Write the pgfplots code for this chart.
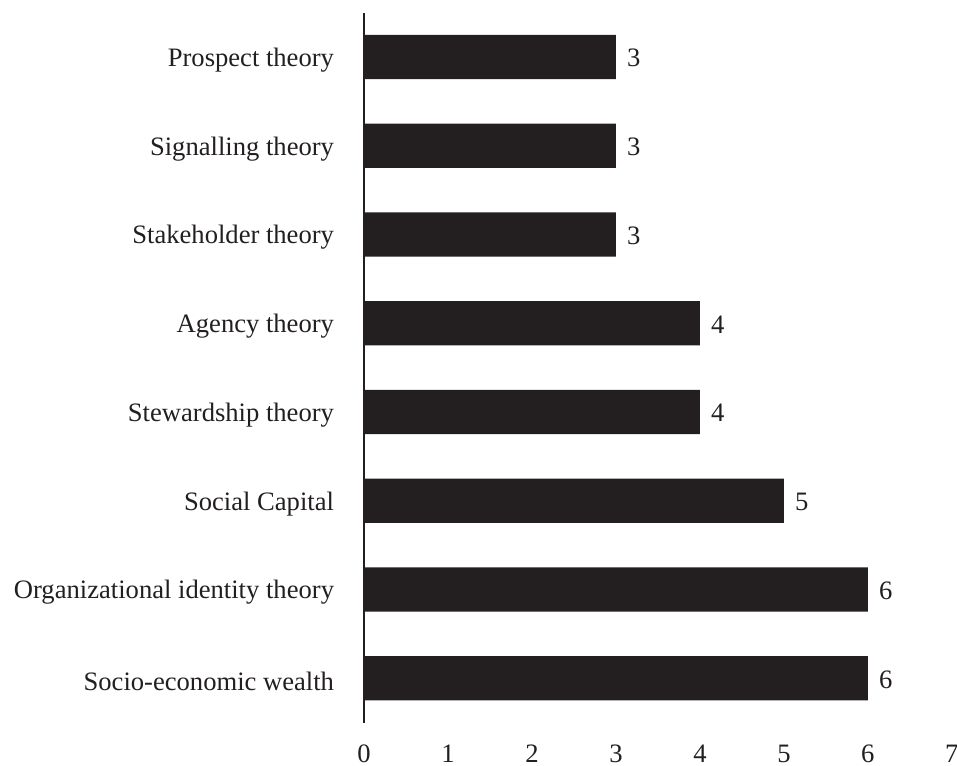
\documentclass[border=0pt]{standalone}
\usepackage{pgfplots}
\pgfplotsset{compat=1.18}
\usepackage{fontspec}
\setmainfont{Liberation Serif}
\definecolor{barblack}{RGB}{35,31,32}
\begin{document}
\begin{tikzpicture}[font=\fontsize{12bp}{14bp}\selectfont, text=barblack]
\useasboundingbox (-164.2bp,-19.1bp) rectangle (267.5bp,326.0bp);
\begin{axis}[
  at={(0,0)}, anchor=south west,
  scale only axis,
  width=265.2bp, height=320.3bp,
  xbar,
  bar width=0.5,
  xmin=0, xmax=7,
  ymin=-0.5, ymax=7.5,
  xtick={0,1,2,3,4,5,6,7},
  ytick={0,1,2,3,4,5,6,7},
  yticklabels={Socio-economic wealth, Organizational identity theory, Social Capital, Stewardship theory, Agency theory, Stakeholder theory, Signalling theory, Prospect theory},
  major tick length=0pt,
  axis x line*=bottom,
  axis y line*=left,
  x axis line style={draw=none},
  y axis line style={draw=barblack, line width=0.9bp, -},
  xticklabel style={yshift=-6.5bp},
  yticklabel style={xshift=-10bp, yshift=-1.3bp},
  /pgf/number format/assume math mode=true,
  nodes near coords,
  every node near coord/.append style={xshift=1.5bp, yshift=-0.5bp, font=\fontsize{12bp}{14bp}\selectfont, text=barblack},
  tick label style={font=\fontsize{12bp}{14bp}\selectfont, text=barblack},
  clip=false,
]
\addplot[fill=barblack, draw=none] coordinates {
  (6,0) (6,1) (5,2) (4,3) (4,4) (3,5) (3,6) (3,7)
};
\end{axis}
\end{tikzpicture}
\end{document}
